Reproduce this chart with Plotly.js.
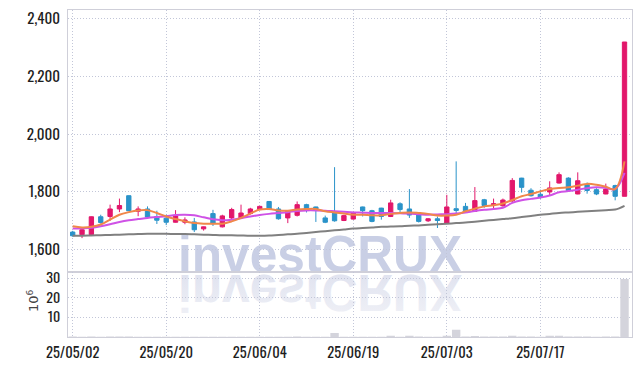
<!DOCTYPE html>
<html>
<head>
<meta charset="utf-8">
<script src="https://cdn.plot.ly/plotly-3.0.1.min.js"></script>
<style>
html,body{margin:0;padding:0;background:#fff;}
#wrap{position:relative;width:642px;height:366px;background:#fff;overflow:hidden;}
#wm{position:absolute;left:0;top:0;}
#chart{position:absolute;left:0;top:0;width:642px;height:366px;}
</style>
</head>
<body>
<div id="wrap">
<svg id="wm" width="642" height="366" xmlns="http://www.w3.org/2000/svg">
  <defs>
    <linearGradient id="fade" x1="0" y1="0" x2="0" y2="1">
      <stop offset="0" stop-color="#f1f2f7"/>
      <stop offset="1" stop-color="#dde0ee"/>
    </linearGradient>
  </defs>
  <text x="178" y="272" font-family="'Liberation Sans', Arial, sans-serif" font-weight="bold" font-size="52" fill="#c9cfe5" textLength="284" lengthAdjust="spacingAndGlyphs">investCRUX</text>
  <text x="178" y="275" transform="translate(0,550) scale(1,-1)" font-family="'Liberation Sans', Arial, sans-serif" font-weight="bold" font-size="52" fill="url(#fade)" textLength="284" lengthAdjust="spacingAndGlyphs">investCRUX</text>
</svg>
<div id="chart"></div>
</div>
<script>
const dates = [
 "25/05/02","25/05/07","25/05/08","25/05/09","25/05/12","25/05/13","25/05/14","25/05/15","25/05/16","25/05/19",
 "25/05/20","25/05/21","25/05/22","25/05/23","25/05/26","25/05/27","25/05/28","25/05/29","25/05/30","25/06/02",
 "25/06/04","25/06/05","25/06/09","25/06/10","25/06/11","25/06/12","25/06/13","25/06/16","25/06/17","25/06/18",
 "25/06/19","25/06/20","25/06/23","25/06/24","25/06/25","25/06/26","25/06/27","25/06/30","25/07/01","25/07/02",
 "25/07/03","25/07/04","25/07/07","25/07/08","25/07/09","25/07/10","25/07/11","25/07/14","25/07/15","25/07/16",
 "25/07/17","25/07/18","25/07/21","25/07/22","25/07/23","25/07/24","25/07/25","25/07/28","25/07/29","25/07/30"
];
const openP  = [1661,1652,1652,1714,1715,1741,1787,1733,1741,1715, 1709,1695,1695,1696,1672,1725,1679,1710,1710,1725,
                1739,1767,1741,1710,1719,1756,1748,1710,1727,1701, 1706,1748,1735,1744,1715,1759,1741,1721,1700,1707,
                1692,1742,1750,1733,1773,1756,1752,1769,1848,1806, 1792,1800,1831,1848,1793,1825,1808,1793,1822,1785];
const highP  = [1665,1672,1715,1721,1756,1777,1788,1750,1750,1735, 1721,1737,1712,1710,1680,1738,1721,1745,1756,1745,
                1752,1768,1748,1737,1767,1759,1749,1718,1886,1721, 1731,1749,1738,1745,1773,1764,1810,1727,1709,1715,
                1790,1906,1762,1817,1776,1777,1777,1848,1849,1813, 1808,1837,1868,1851,1868,1833,1813,1829,1825,2320];
const lowP   = [1645,1640,1651,1690,1700,1730,1734,1716,1712,1689, 1685,1694,1688,1661,1666,1682,1677,1704,1708,1722,
                1737,1738,1704,1692,1715,1729,1696,1692,1697,1699, 1704,1715,1695,1704,1713,1727,1710,1694,1696,1675,
                1690,1727,1727,1731,1745,1741,1749,1764,1798,1784, 1776,1786,1829,1802,1792,1794,1789,1792,1771,1785];
const closeP = [1648,1669,1714,1694,1741,1753,1735,1741,1713,1702, 1695,1717,1703,1669,1679,1690,1717,1739,1727,1741,
                1750,1739,1707,1735,1756,1739,1736,1695,1700,1718, 1729,1735,1698,1715,1762,1739,1720,1698,1707,1701,
                1748,1736,1735,1770,1753,1759,1772,1840,1816,1787, 1781,1814,1860,1805,1839,1805,1793,1810,1785,2320];
const ma5    = [1681,1677,1679,1687,1704,1721,1730,1736,1737,1727, 1715,1706,1698,1692,1690,1690,1690,1698,1710,1725,
                1739,1741,1736,1735,1739,1741,1741,1733,1729,1725, 1721,1721,1719,1719,1724,1727,1729,1727,1724,1718,
                1718,1721,1733,1742,1750,1754,1760,1772,1785,1793, 1802,1810,1814,1816,1822,1828,1825,1818,1810,1906];
const ma20   = [1673,1674,1676,1681,1688,1696,1702,1706,1710,1713, 1716,1720,1721,1719,1712,1705,1702,1704,1709,1715,
                1720,1724,1727,1730,1734,1736,1736,1735,1733,1731, 1729,1728,1727,1727,1727,1726,1725,1723,1721,1722,
                1723,1725,1729,1734,1738,1741,1745,1762,1771,1776, 1781,1788,1799,1803,1808,1813,1816,1814,1810,1866];
const ma120  = [1648,1648,1649,1650,1651,1652,1653,1654,1655,1655, 1655,1654,1654,1653,1652,1651,1650,1650,1649,1648,
                1648,1649,1651,1653,1655,1658,1661,1664,1667,1670, 1673,1675,1677,1679,1680,1681,1683,1684,1686,1688,
                1690,1692,1694,1697,1700,1703,1706,1709,1713,1717, 1721,1724,1727,1729,1731,1733,1735,1737,1739,1752];
const volume = [0.2,0.15,0.3,0.15,0.2,0.2,0.2,0.15,0.15,0.1, 0.1,0.15,0.1,0.15,0.1,0.15,0.1,0.15,0.1,0.1,
                0.1,0.1,0.15,0.1,0.2,0.1,0.15,0.1,2.0,0.15, 0.1,0.15,0.1,0.15,0.6,0.15,0.6,0.2,0.1,0.15,
                0.6,3.7,0.2,0.5,0.2,0.2,0.2,0.6,0.3,0.2, 0.15,0.6,0.6,0.2,0.25,0.2,0.15,0.2,0.25,29.7];
const tickDates = ["25/05/02","25/05/20","25/06/04","25/06/19","25/07/03","25/07/17"];
const priceTicks = [1600,1800,2000,2200,2400];
const volTicks = [10,20,30];

const RED = '#e2176b', BLUE = '#2a93c9';
const GRID = '#c2c6d8', LINE = '#cfcfd9';
const DASH = '1px,2px';
const yFont = {family:"Oswald,'Roboto Condensed',sans-serif", size:15, color:'#1e1e1e'};
const vFont = {family:"Oswald,'Roboto Condensed',sans-serif", size:14, color:'#1e1e1e'};
const xFont = {family:"Oswald,'Roboto Condensed',sans-serif", size:14.5, color:'#1e1e1e'};

const traces = [
  {type:'bar', x:dates, y:volume, xaxis:'x2', yaxis:'y2', marker:{color:'#d4d4dc', line:{width:0}}, hoverinfo:'skip'},
  {type:'scatter', mode:'lines', x:dates, y:ma120, line:{color:'#808080', width:2, shape:'spline'}, hoverinfo:'skip'},
  {type:'scatter', mode:'lines', x:dates, y:ma20, line:{color:'#cf52e6', width:2, shape:'spline'}, hoverinfo:'skip'},
  {type:'scatter', mode:'lines', x:dates, y:ma5, line:{color:'#f0874a', width:2, shape:'spline'}, hoverinfo:'skip'},
  {type:'candlestick', x:dates, open:openP, high:highP, low:lowP, close:closeP,
   increasing:{line:{color:RED, width:1}, fillcolor:RED},
   decreasing:{line:{color:BLUE, width:1}, fillcolor:BLUE}, whiskerwidth:0}
];

const split = 0.1975;
const layout = {
  width:642, height:366,
  margin:{l:68, r:10, t:10, b:29},
  paper_bgcolor:'rgba(0,0,0,0)', plot_bgcolor:'rgba(0,0,0,0)',
  showlegend:false, boxgap:0.34, bargap:0.1,
  xaxis:{type:'category', anchor:'y', range:[-0.5,59.8], rangeslider:{visible:false},
         tickvals:tickDates, showticklabels:false, ticks:'',
         showgrid:true, gridcolor:GRID, griddash:DASH, gridwidth:1,
         showline:true, mirror:true, linecolor:LINE, linewidth:1, zeroline:false},
  xaxis2:{type:'category', anchor:'y2', matches:'x', range:[-0.5,59.8],
         tickvals:tickDates, ticktext:tickDates, ticks:'', ticklabelstandoff:3, tickfont:xFont,
         showgrid:true, gridcolor:GRID, griddash:DASH, gridwidth:1,
         showline:true, mirror:true, linecolor:LINE, linewidth:1, zeroline:false},
  yaxis:{domain:[split,1], range:[1521,2431], tickvals:priceTicks, tickformat:',d', ticks:'',
         ticklabelstandoff:4, tickfont:yFont,
         showgrid:true, gridcolor:GRID, griddash:DASH, gridwidth:1,
         showline:true, mirror:true, linecolor:LINE, linewidth:1, zeroline:false},
  yaxis2:{domain:[0,split], range:[0,33], tickvals:volTicks, ticks:'',
         ticklabelstandoff:4, tickfont:vFont,
         showgrid:true, gridcolor:GRID, griddash:DASH, gridwidth:1,
         showline:true, mirror:true, linecolor:LINE, linewidth:1, zeroline:false},
  annotations:[
    {text:'10<sup>6</sup>', xref:'paper', yref:'paper', x:-0.062, y:0.11, xanchor:'center', yanchor:'middle',
     textangle:-90, showarrow:false, font:{family:"'DejaVu Sans',sans-serif", size:13, color:'#444'}}
  ]
};
Plotly.newPlot('chart', traces, layout, {staticPlot:true, displayModeBar:false});
</script>
</body>
</html>
